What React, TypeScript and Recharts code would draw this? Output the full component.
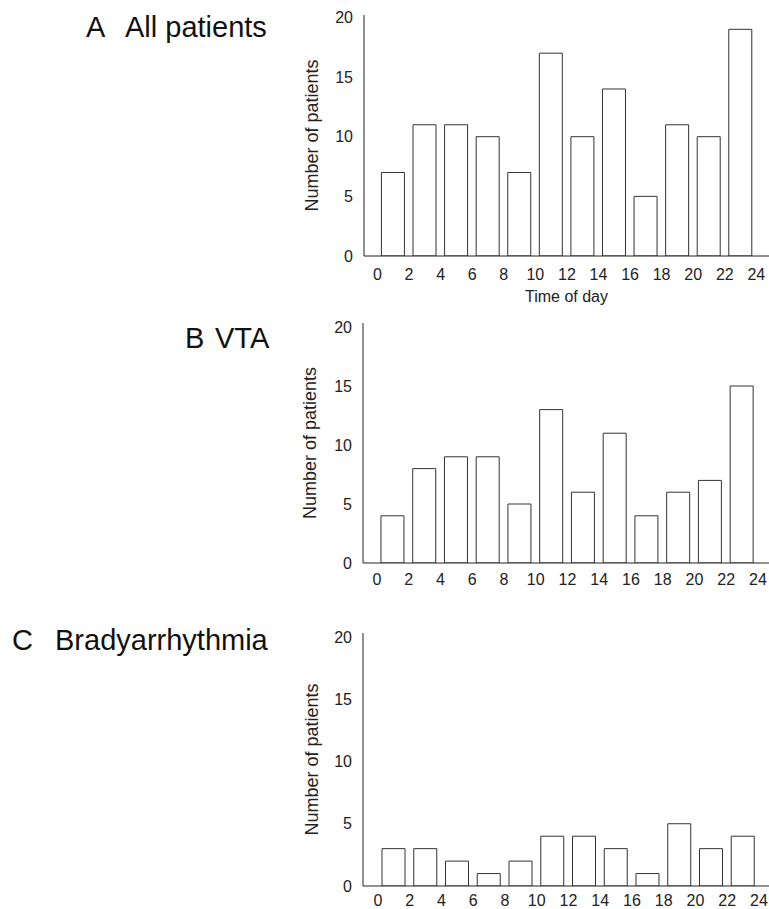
import React from 'react';
import { BarChart, Bar, XAxis, YAxis } from 'recharts';

const timeCenters = [1, 3, 5, 7, 9, 11, 13, 15, 17, 19, 21, 23];
const allPatients = [7, 11, 11, 10, 7, 17, 10, 14, 5, 11, 10, 19];
const vtaPatients = [4, 8, 9, 9, 5, 13, 6, 11, 4, 6, 7, 15];
const bradyPatients = [3, 3, 2, 1, 2, 4, 4, 3, 1, 5, 3, 4];
const xTicks = [0, 2, 4, 6, 8, 10, 12, 14, 16, 18, 20, 22, 24];
const yTicks = [0, 5, 10, 15, 20];

const FONT = '"Liberation Sans", Arial, Helvetica, sans-serif';
const INK = '#222';

type PanelProps = {
  values: number[];
  top: number;
  height: number;
  plotTop: number;
  plotBottom: number;
  yAxisWidth: number;
  xDomain: [number, number];
  yMax: number;
  xTickMargin: number;
  yLabelOffset: number;
  xLabel?: string;
};

function Panel(p: PanelProps) {
  const data = timeCenters.map((h, i) => ({ hour: h, count: p.values[i] }));
  const xAxisHeight = p.top + p.height - p.plotBottom;
  return (
    <div style={{ position: 'absolute', left: 290, top: p.top, width: 479, height: p.height }}>
      <BarChart
        width={479}
        height={p.height}
        data={data}
        margin={{ top: p.plotTop - p.top, right: 0, left: 0, bottom: 0 }}
      >
        <XAxis
          dataKey="hour"
          type="number"
          domain={p.xDomain}
          allowDataOverflow
          ticks={xTicks}
          interval={0}
          tickLine={false}
          height={xAxisHeight}
          tickMargin={p.xTickMargin}
          axisLine={{ stroke: INK, strokeWidth: 1 }}
          tick={{ fill: INK, fontSize: 16, fontFamily: FONT }}
          label={
            p.xLabel
              ? { value: p.xLabel, position: 'insideBottom', offset: 8, fill: INK, fontSize: 16, fontFamily: FONT }
              : undefined
          }
        />
        <YAxis
          type="number"
          domain={[0, p.yMax]}
          allowDataOverflow
          ticks={yTicks}
          interval={0}
          tickLine={false}
          width={p.yAxisWidth}
          tickMargin={5}
          axisLine={{ stroke: INK, strokeWidth: 1 }}
          tick={{ fill: INK, fontSize: 16, fontFamily: FONT }}
          label={{
            value: 'Number of patients',
            angle: -90,
            position: 'insideLeft',
            offset: p.yLabelOffset,
            fill: INK,
            fontSize: 18,
            fontFamily: FONT,
            style: { textAnchor: 'middle' },
          }}
        />
        <Bar dataKey="count" fill="#ffffff" stroke="#333" strokeWidth={1} barSize={23} isAnimationActive={false} />
      </BarChart>
    </div>
  );
}

const titleStyle: React.CSSProperties = {
  position: 'absolute',
  fontFamily: FONT,
  fontSize: 29,
  lineHeight: '29px',
  color: '#111',
  whiteSpace: 'nowrap',
};

export default function App() {
  return (
    <div style={{ position: 'absolute', left: 0, top: 0, width: 769, height: 909, background: '#fff', overflow: 'hidden' }}>
      <div style={{ ...titleStyle, left: 86, top: 13 }}>A</div>
      <div style={{ ...titleStyle, left: 125, top: 13 }}>All patients</div>
      <div style={{ ...titleStyle, left: 185, top: 324 }}>B</div>
      <div style={{ ...titleStyle, left: 215, top: 324 }}>VTA</div>
      <div style={{ ...titleStyle, left: 12, top: 626 }}>C</div>
      <div style={{ ...titleStyle, left: 55, top: 626 }}>Bradyarrhythmia</div>

      <Panel
        values={allPatients}
        top={0}
        height={310}
        plotTop={15}
        plotBottom={256}
        yAxisWidth={74}
        xDomain={[-0.85, 24.8]}
        yMax={20.2}
        xTickMargin={7}
        yLabelOffset={22}
        xLabel="Time of day"
      />
      <Panel
        values={vtaPatients}
        top={300}
        height={300}
        plotTop={323}
        plotBottom={563}
        yAxisWidth={73}
        xDomain={[-0.88, 24.7]}
        yMax={20.34}
        xTickMargin={5}
        yLabelOffset={20}
      />
      <Panel
        values={bradyPatients}
        top={610}
        height={299}
        plotTop={633}
        plotBottom={886}
        yAxisWidth={73}
        xDomain={[-0.945, 24.63]}
        yMax={20.32}
        xTickMargin={3}
        yLabelOffset={22}
      />
    </div>
  );
}
